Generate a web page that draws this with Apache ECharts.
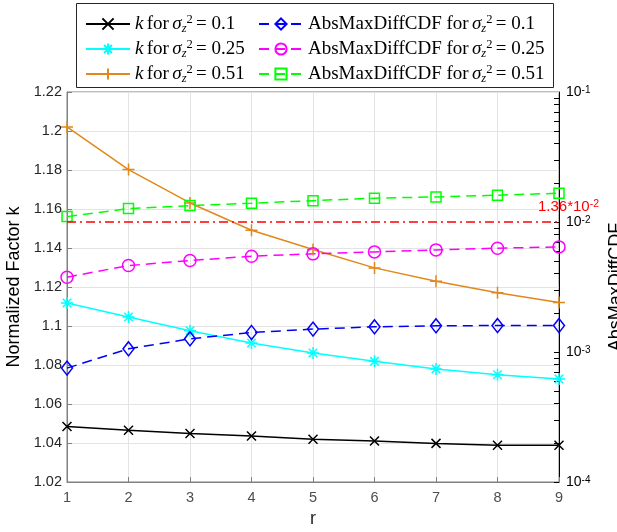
<!DOCTYPE html>
<html>
<head>
<meta charset="utf-8">
<script src="https://cdn.jsdelivr.net/npm/echarts@6/dist/echarts.min.js"></script>
<style>html,body{margin:0;padding:0;background:#fff}#c{width:617px;height:532px}</style>
</head>
<body>
<div id="c"></div>
<script>
// ---- data ----
const rValues = [1, 2, 3, 4, 5, 6, 7, 8, 9];
const kSigma01  = [1.0485, 1.0465, 1.0449, 1.0436, 1.0419, 1.0410, 1.0398, 1.0388, 1.0388];
const kSigma025 = [1.1118, 1.1046, 1.0976, 1.0913, 1.0862, 1.0819, 1.0780, 1.0750, 1.0728];
const kSigma051 = [1.2021, 1.1802, 1.1631, 1.1491, 1.1392, 1.1298, 1.1229, 1.1170, 1.1121];
const cdfSigma01  = [0.000752, 0.001058, 0.001263, 0.001412, 0.00150, 0.001562, 0.00159, 0.001598, 0.001598];
const cdfSigma025 = [0.003764, 0.004624, 0.00505, 0.005459, 0.005687, 0.00589, 0.006103, 0.006287, 0.006434];
const cdfSigma051 = [0.01100, 0.01268, 0.01337, 0.01395, 0.01460, 0.01524, 0.01560, 0.01607, 0.01665];
const refLineValue = 0.01057;
const refLineLabel = '1.36*10{sup|-2}';
const leftTicks = { min: 1.02, max: 1.22, interval: 0.02 };
const rightTicks = { min: 1e-4, max: 1e-1 };
const legendLabels = {
  k01: '{i|k} {r|for} {i|σ}{sb|z}{sp|2} {r|= 0.1}',
  k025: '{i|k} {r|for} {i|σ}{sb|z}{sp|2} {r|= 0.25}',
  k051: '{i|k} {r|for} {i|σ}{sb|z}{sp|2} {r|= 0.51}',
  c01: '{r|AbsMaxDiffCDF for} {i|σ}{sb|z}{sp|2} {r|= 0.1}',
  c025: '{r|AbsMaxDiffCDF for} {i|σ}{sb|z}{sp|2} {r|= 0.25}',
  c051: '{r|AbsMaxDiffCDF for} {i|σ}{sb|z}{sp|2} {r|= 0.51}'
};

const pts = arr => rValues.map((x, i) => [x, arr[i]]);
const SYM_X = 'path://M0,0L10,10M0,10L10,0';
const SYM_PLUS = 'path://M5,0L5,10M0,5L10,5';
const SYM_AST = 'path://M5,0L5,10M0,5L10,5M1.5,1.5L8.5,8.5M1.5,8.5L8.5,1.5';

// minor tick positions for the log axis (styling only)
const logTicks = [];
for (let e = -4; e < -1; e++) for (let m = 1; m < 10; m++) logTicks.push(m * Math.pow(10, e));
logTicks.push(0.1);

const AXFONT = 'Liberation Sans, Arial, sans-serif';
const SERIF = 'Liberation Serif, DejaVu Serif, serif';
const legendRich = {
  r: { fontFamily: SERIF, fontSize: 19, color: '#000', lineHeight: 22 },
  i: { fontFamily: SERIF, fontSize: 19, fontStyle: 'italic', color: '#000', lineHeight: 22 },
  sp: { fontFamily: SERIF, fontSize: 12.5, color: '#000', lineHeight: 14, verticalAlign: 'top' },
  sb: { fontFamily: SERIF, fontSize: 12.5, fontStyle: 'italic', color: '#000', lineHeight: 12, verticalAlign: 'bottom' }
};

function lineSeries(name, data, yIdx, color, symbol, size, dashed, hollow) {
  return {
    name, type: 'line', data: pts(data), yAxisIndex: yIdx,
    symbol, symbolSize: size, showSymbol: true,
    lineStyle: { color, width: 1.5, type: dashed ? [10, 6] : 'solid' },
    itemStyle: { color: hollow ? 'rgba(0,0,0,0)' : color, borderColor: color, borderWidth: 1.5 },
    emphasis: { disabled: true }, silent: true, animation: false, z: 3
  };
}

const chart = echarts.init(document.getElementById('c'), null, { renderer: 'canvas' });
const greenSeries = lineSeries('c051', cdfSigma051, 1, '#00ff00', 'rect', 10, true, true);
greenSeries.markLine = {
  silent: true, symbol: 'none', animation: false,
  lineStyle: { color: '#ff0000', width: 1.5, type: [9, 4, 2, 4] },
  data: [{ yAxis: refLineValue }],
  label: {
    show: true, position: 'insideEndTop', formatter: refLineLabel, offset: [45, -3],
    color: '#ff0000', fontFamily: AXFONT, fontSize: 15,
    rich: { sup: { color: '#ff0000', fontFamily: AXFONT, fontSize: 10.5, verticalAlign: 'top', lineHeight: 12 } }
  }
};

chart.setOption({
  animation: false,
  backgroundColor: '#fff',
  grid: { left: 67, right: 58, top: 92, bottom: 50, outerBoundsMode: 'none', containLabel: false,
          show: true, borderColor: '#808080', borderWidth: 1, backgroundColor: '#fff' },
  graphic: [{ type: 'rect', left: 76, top: 3, shape: { width: 477, height: 84 }, style: { fill: '#fff', stroke: '#262626', lineWidth: 1 }, z: 100 }],
  legend: [
    { data: ['k01', 'k025', 'k051'], orient: 'vertical', left: 80, top: 8, itemWidth: 44, itemHeight: 14, itemGap: 3, z: 110,
      formatter: n => legendLabels[n], textStyle: { rich: legendRich }, selectedMode: false },
    { data: ['c01', 'c025', 'c051'], orient: 'vertical', left: 253, top: 8, itemWidth: 44, itemHeight: 14, itemGap: 3, z: 110,
      formatter: n => legendLabels[n], textStyle: { rich: legendRich }, selectedMode: false }
  ],
  xAxis: {
    type: 'value', min: 1, max: 9, interval: 1,
    name: 'r', nameLocation: 'middle', nameGap: 28,
    nameTextStyle: { fontFamily: AXFONT, fontSize: 18, color: '#262626' },
    axisLine: { lineStyle: { color: '#808080' } },
    axisTick: { inside: true, length: 5, lineStyle: { color: '#808080' } },
    axisLabel: { fontFamily: AXFONT, fontSize: 14.5, color: '#4d4d4d', margin: 8 },
    splitLine: { show: true, lineStyle: { color: '#e3e3e3' } }
  },
  yAxis: [
    {
      type: 'value', min: leftTicks.min, max: leftTicks.max, interval: leftTicks.interval, position: 'left',
      name: 'Normalized Factor k', nameLocation: 'middle', nameGap: 41,
      nameTextStyle: { fontFamily: AXFONT, fontSize: 18, color: '#000' },
      axisLine: { show: true, lineStyle: { color: '#808080' } },
      axisTick: { show: true, inside: true, length: 5, lineStyle: { color: '#808080' } },
      axisLabel: { fontFamily: AXFONT, fontSize: 14.5, color: '#262626', margin: 5, formatter: v => String(parseFloat(v.toFixed(2))) },
      splitLine: { show: true, lineStyle: { color: '#e3e3e3' } }
    },
    {
      type: 'log', logBase: 10, min: rightTicks.min, max: rightTicks.max, position: 'right',
      name: 'AbsMaxDiffCDF', nameLocation: 'middle', nameGap: 48, nameRotate: 90,
      nameTextStyle: { fontFamily: AXFONT, fontSize: 18, color: '#000' },
      axisLine: { show: true, lineStyle: { color: '#000' } },
      axisTick: { show: true, inside: true, length: 5, customValues: logTicks, lineStyle: { color: '#000' } },
      axisLabel: {
        fontFamily: AXFONT, fontSize: 14, color: '#000', margin: 7,
        formatter: v => '10{sup|' + Math.round(Math.log10(v)) + '}',
        rich: { sup: { fontFamily: AXFONT, fontSize: 10, color: '#000', verticalAlign: 'top', lineHeight: 10 } }
      },
      splitLine: { show: false }
    }
  ],
  series: [
    lineSeries('k01', kSigma01, 0, '#000000', SYM_X, 9, false, false),
    lineSeries('k025', kSigma025, 0, '#00ffff', SYM_AST, 12, false, false),
    lineSeries('k051', kSigma051, 0, '#e0881c', SYM_PLUS, 12, false, false),
    lineSeries('c01', cdfSigma01, 1, '#0000ff', 'diamond', [11, 14], true, true),
    lineSeries('c025', cdfSigma025, 1, '#ff00ff', 'circle', 12, true, true),
    greenSeries
  ]
});
</script>
</body>
</html>
